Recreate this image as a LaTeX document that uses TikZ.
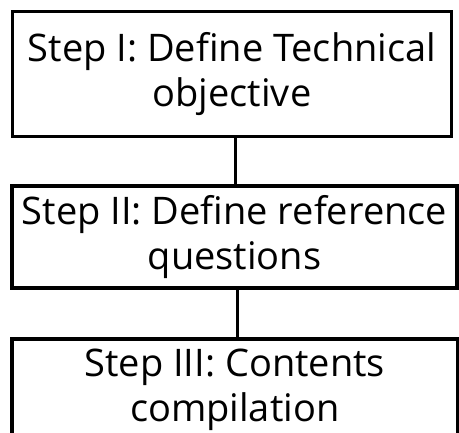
\documentclass[tikz,border=0pt]{standalone}
\usepackage{fontspec}
\setmainfont{Open Sans}[Ligatures=NoCommon]
\begin{document}
\begin{tikzpicture}[x=1pt,y=-1pt,
  stepbox/.style={draw=black, line width=3.2pt, rectangle, inner sep=0pt,
    align=center, font=\fontsize{38}{45}\selectfont},
  link/.style={draw=black, line width=3pt}]
\useasboundingbox (0,0) rectangle (459,433);
\clip (0,0) rectangle (459,433);
\node[stepbox, minimum width=439pt, minimum height=125pt] (s1) at (232,74)
  {Step I: Define Technical\\objective};
\node[stepbox, minimum width=445pt, minimum height=102pt] (s2) at (234.5,237)
  {Step II: Define reference\\questions};
\node[stepbox, minimum width=445.5pt, minimum height=102pt] (s3) at (234.75,390)
  {Step III: Contents\\compilation};
\coordinate (k1) at (235.5,0);
\coordinate (k2) at (237,0);
\draw[link] (s1.south -| k1) -- (s2.north -| k1);
\draw[link] (s2.south -| k2) -- (s3.north -| k2);
\end{tikzpicture}
\end{document}
